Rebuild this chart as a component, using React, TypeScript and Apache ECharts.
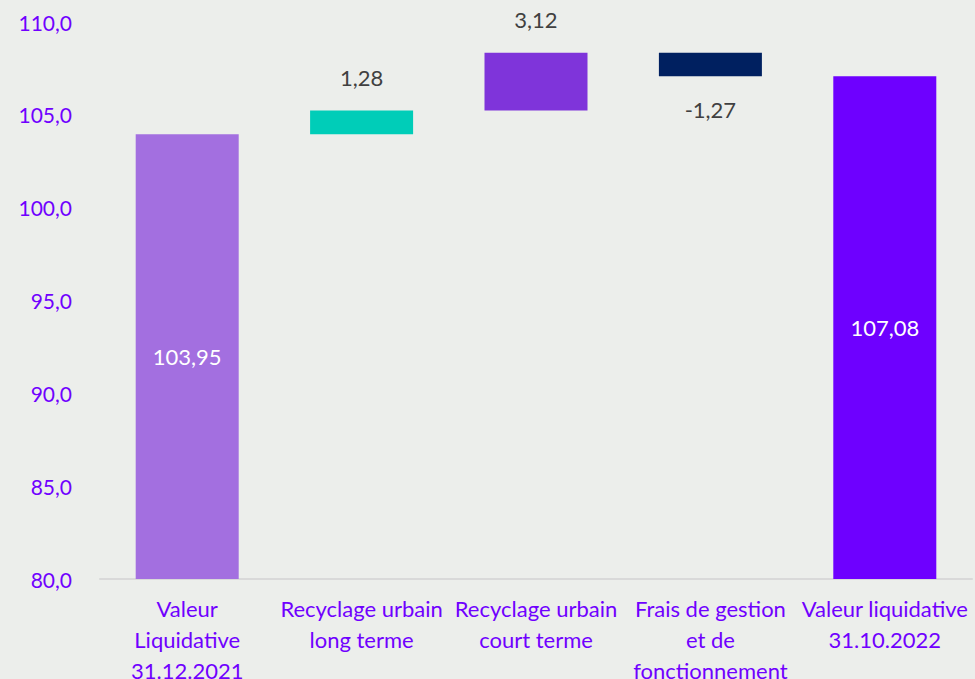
import React, { useEffect, useRef } from "react";
import * as echarts from "echarts";

const categories = [
  "Valeur\nLiquidative\n31.12.2021",
  "Recyclage urbain\nlong terme",
  "Recyclage urbain\ncourt terme",
  "Frais de gestion\net de\nfonctionnement",
  "Valeur liquidative\n31.10.2022",
];
const startValue = 103.95;
const deltas = [1.28, 3.12, -1.27];
const endValue = 107.08;
const barColors = ["#A36FE0", "#00CDB8", "#7F34DA", "#002060", "#6E00FF"];
const yTicks = { min: 80, max: 110, interval: 5 };

const fmt = (v: number) => v.toFixed(2).replace(".", ",");

export default function App() {
  const ref = useRef<HTMLDivElement>(null);
  useEffect(() => {
    document.body.style.margin = "0";
    const chart = echarts.init(ref.current!, null, { renderer: "svg" });
    const totals: any[] = [startValue, "-", "-", "-", endValue];
    const base: any[] = ["-"];
    const delta: any[] = ["-"];
    let run = startValue;
    deltas.forEach((d, i) => {
      const lo = d >= 0 ? run : run + d;
      base.push(lo);
      delta.push({
        value: Math.abs(d),
        real: d,
        itemStyle: { color: barColors[i + 1] },
        label: { position: d >= 0 ? "top" : "bottom" },
      });
      run += d;
    });
    base.push("-");
    delta.push("-");
    const font = "Lato";
    chart.setOption({
      animation: false,
      backgroundColor: "#ECEEEB",
      textStyle: { fontFamily: font },
      grid: {
        left: 100,
        right: 3,
        top: 22,
        bottom: 100,
        containLabel: false,
        outerBoundsMode: "none",
      },
      xAxis: {
        type: "category",
        data: categories,
        axisTick: { show: false },
        axisLine: { lineStyle: { color: "#D9D9D9", width: 2 } },
        axisLabel: {
          color: "#7000FF",
          fontSize: 22,
          lineHeight: 31,
          margin: 14,
          fontFamily: font,
          interval: 0,
        },
      },
      yAxis: {
        type: "value",
        min: yTicks.min,
        max: yTicks.max,
        interval: yTicks.interval,
        startValue: yTicks.min,
        splitLine: { show: false },
        axisLine: { show: false },
        axisTick: { show: false },
        axisLabel: {
          color: "#7000FF",
          fontSize: 21,
          margin: 28,
          fontFamily: font,
          formatter: (v: number) => v.toFixed(1).replace(".", ","),
        },
      },
      series: [
        {
          type: "bar",
          data: totals.map((v, i) =>
            v === "-" ? "-" : { value: v, itemStyle: { color: barColors[i] } }
          ),
          barWidth: 103,
          barGap: "-100%",
          label: {
            show: true,
            position: "inside",
            color: "#FFFFFF",
            fontSize: 22,
            fontFamily: font,
            formatter: (p: any) => fmt(p.value),
          },
        },
        {
          type: "bar",
          stack: "w",
          data: base,
          barWidth: 103,
          barGap: "-100%",
          itemStyle: { color: "transparent" },
          emphasis: { disabled: true },
          silent: true,
        },
        {
          type: "bar",
          stack: "w",
          data: delta,
          barWidth: 103,
          barGap: "-100%",
          label: {
            show: true,
            distance: 22,
            color: "#404040",
            fontSize: 22,
            fontFamily: font,
            formatter: (p: any) => fmt(p.data.real),
          },
        },
      ],
    });
    return () => chart.dispose();
  }, []);
  return <div ref={ref} style={{ width: 975, height: 679 }} />;
}
